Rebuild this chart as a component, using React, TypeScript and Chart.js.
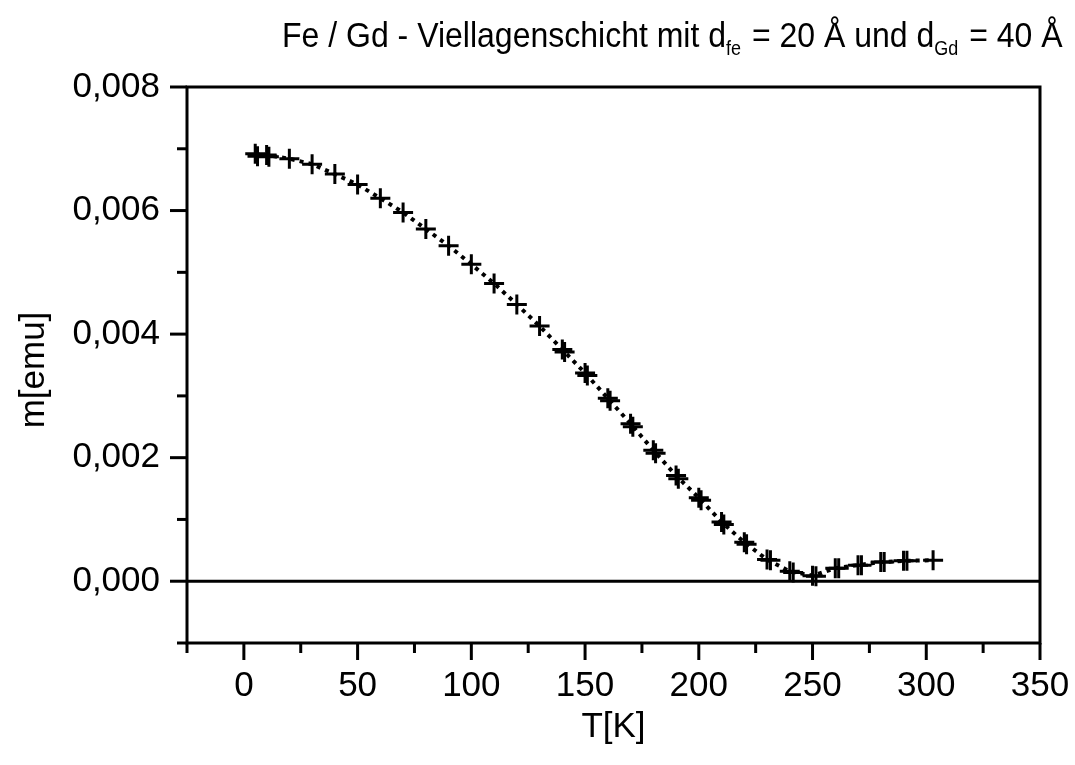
import React, { useEffect, useRef } from "react";
import { Chart, registerables } from "chart.js";

Chart.register(...registerables);

// Series 1 (dotted connecting line)
const T1 = [5, 10, 20, 30, 40, 50, 60, 70, 80, 90, 100, 110, 120, 130, 140, 150, 160, 170, 180, 190, 200, 210, 220, 230, 240, 250, 260, 270, 280, 290, 303];
const M1 = [0.00692, 0.0069, 0.00684, 0.00675, 0.00659, 0.00642, 0.0062, 0.00597, 0.0057, 0.00543, 0.00513, 0.00482, 0.00448, 0.00413, 0.00375, 0.00337, 0.00296, 0.00255, 0.00212, 0.00171, 0.00135, 0.00096, 0.00063, 0.00035, 0.00016, 0.00009, 0.00021, 0.00026, 0.00031, 0.00033, 0.00034];

// Series 2 (second measurement, markers only)
const T2 = [6, 11, 141, 151, 161, 171, 181, 191, 201, 211, 221, 231.5, 241.5, 251.5, 261.5, 271.5, 281.5, 291.5];
const M2 = [0.00688, 0.00687, 0.00371, 0.00333, 0.00292, 0.0025, 0.00207, 0.00166, 0.00131, 0.00092, 0.0006, 0.00034, 0.00014, 0.00008, 0.00021, 0.00026, 0.00031, 0.00033];

const X_MAJOR = [0, 50, 100, 150, 200, 250, 300, 350];
const X_MINOR = [-25, 25, 75, 125, 175, 225, 275, 325];
const Y_MAJOR = [0, 0.002, 0.004, 0.006, 0.008];
const Y_MINOR = [-0.001, 0.001, 0.003, 0.005, 0.007];

const TITLE_PARTS = [
  { text: "Fe / Gd - Viellagenschicht mit d", sub: false },
  { text: "fe", sub: true },
  { text: " = 20 Å und d", sub: false },
  { text: "Gd", sub: true },
  { text: " = 40 Å", sub: false },
];
const X_TITLE = "T[K]";
const Y_TITLE = "m[emu]";

const FONT = "'Liberation Sans', Arial, Helvetica, sans-serif";

const decorPlugin = {
  id: "decor",
  afterDraw(chart: any) {
    const { ctx, chartArea } = chart;
    const xs = chart.scales.x;
    const ys = chart.scales.y;
    ctx.save();
    ctx.strokeStyle = "#000";
    ctx.lineCap = "butt";
    ctx.lineWidth = 3;
    ctx.strokeRect(chartArea.left, chartArea.top, chartArea.right - chartArea.left, chartArea.bottom - chartArea.top);
    const y0 = ys.getPixelForValue(0);
    ctx.beginPath();
    ctx.moveTo(chartArea.left, y0);
    ctx.lineTo(chartArea.right, y0);
    ctx.stroke();
    const drawX = (v: number, len: number) => {
      const p = xs.getPixelForValue(v);
      ctx.beginPath();
      ctx.moveTo(p, chartArea.bottom);
      ctx.lineTo(p, chartArea.bottom + len);
      ctx.stroke();
    };
    const drawY = (v: number, len: number) => {
      const p = ys.getPixelForValue(v);
      ctx.beginPath();
      ctx.moveTo(chartArea.left, p);
      ctx.lineTo(chartArea.left - len, p);
      ctx.stroke();
    };
    X_MAJOR.forEach((v) => drawX(v, 17));
    X_MINOR.forEach((v) => drawX(v, 10));
    Y_MAJOR.forEach((v) => drawY(v, 17));
    Y_MINOR.forEach((v) => drawY(v, 10));

    // title with subscripts (slightly tall letterforms like the original)
    ctx.fillStyle = "#000";
    ctx.textBaseline = "alphabetic";
    ctx.textAlign = "left";
    const mainFont = `32px ${FONT}`;
    const subFont = `18px ${FONT}`;
    const base = 47;
    ctx.save();
    ctx.translate(282, base);
    ctx.scale(1, 1.1);
    let x = 0;
    TITLE_PARTS.forEach((p) => {
      ctx.font = p.sub ? subFont : mainFont;
      ctx.fillText(p.text, x, p.sub ? 7 : 0);
      x += ctx.measureText(p.text).width + (p.sub ? 2 : 0);
    });
    ctx.restore();

    // axis titles
    ctx.font = `35px ${FONT}`;
    ctx.textAlign = "center";
    ctx.textBaseline = "alphabetic";
    ctx.fillText(X_TITLE, (chartArea.left + chartArea.right) / 2, 737);
    ctx.save();
    ctx.translate(44, (chartArea.top + chartArea.bottom) / 2 + 5);
    ctx.rotate(-Math.PI / 2);
    ctx.fillText(Y_TITLE, 0, 0);
    ctx.restore();
    ctx.restore();
  },
};

export default function App() {
  const ref = useRef<HTMLCanvasElement | null>(null);
  useEffect(() => {
    if (!ref.current) return;
    const chart = new Chart(ref.current, {
      type: "scatter",
      data: {
        datasets: [
          {
            data: T1.map((t, i) => ({ x: t, y: M1[i] })),
            showLine: true,
            borderColor: "#000",
            backgroundColor: "#000",
            borderWidth: 4,
            borderDash: [4, 5],
            pointStyle: "cross",
            pointRadius: 10,
            pointBorderWidth: 3,
            pointBorderColor: "#000",
            pointHoverRadius: 10,
          },
          {
            data: T2.map((t, i) => ({ x: t, y: M2[i] })),
            showLine: false,
            borderColor: "#000",
            backgroundColor: "#000",
            pointStyle: "cross",
            pointRadius: 10,
            pointBorderWidth: 3,
            pointBorderColor: "#000",
            pointHoverRadius: 10,
          },
        ],
      },
      options: {
        animation: false,
        responsive: false,
        maintainAspectRatio: false,
        events: [],
        layout: { padding: { top: 87, right: 35, left: 0, bottom: 0 } },
        plugins: { legend: { display: false }, tooltip: { enabled: false }, title: { display: false } },
        scales: {
          x: {
            type: "linear",
            min: -25,
            max: 350,
            afterFit: (s: any) => {
              s.height = 122;
            },
            border: { display: false },
            grid: { drawOnChartArea: false, drawTicks: true, tickLength: 17, color: "rgba(0,0,0,0)" },
            ticks: {
              stepSize: 25,
              padding: 5,
              color: "#000",
              font: { family: FONT, size: 35 },
              maxRotation: 0,
              autoSkip: false,
              callback: (v: any) => (X_MAJOR.includes(Number(v)) ? String(v) : ""),
            },
          },
          y: {
            type: "linear",
            min: -0.001,
            max: 0.008,
            afterFit: (s: any) => {
              s.width = 187;
            },
            border: { display: false },
            grid: { drawOnChartArea: false, drawTicks: true, tickLength: 17, color: "rgba(0,0,0,0)" },
            ticks: {
              stepSize: 0.001,
              padding: 10,
              color: "#000",
              font: { family: FONT, size: 35 },
              autoSkip: false,
              callback: (v: any) => {
                const n = Number(v);
                const isMajor = Y_MAJOR.some((m) => Math.abs(m - n) < 1e-9);
                return isMajor ? n.toFixed(3).replace(".", ",") : "";
              },
            },
          },
        },
      },
      plugins: [decorPlugin],
    });
    return () => chart.destroy();
  }, []);
  return (
    <div style={{ position: "fixed", left: 0, top: 0, width: 1075, height: 765, background: "#fff" }}>
      <canvas ref={ref} width={1075} height={765} style={{ width: 1075, height: 765, display: "block" }} />
    </div>
  );
}
